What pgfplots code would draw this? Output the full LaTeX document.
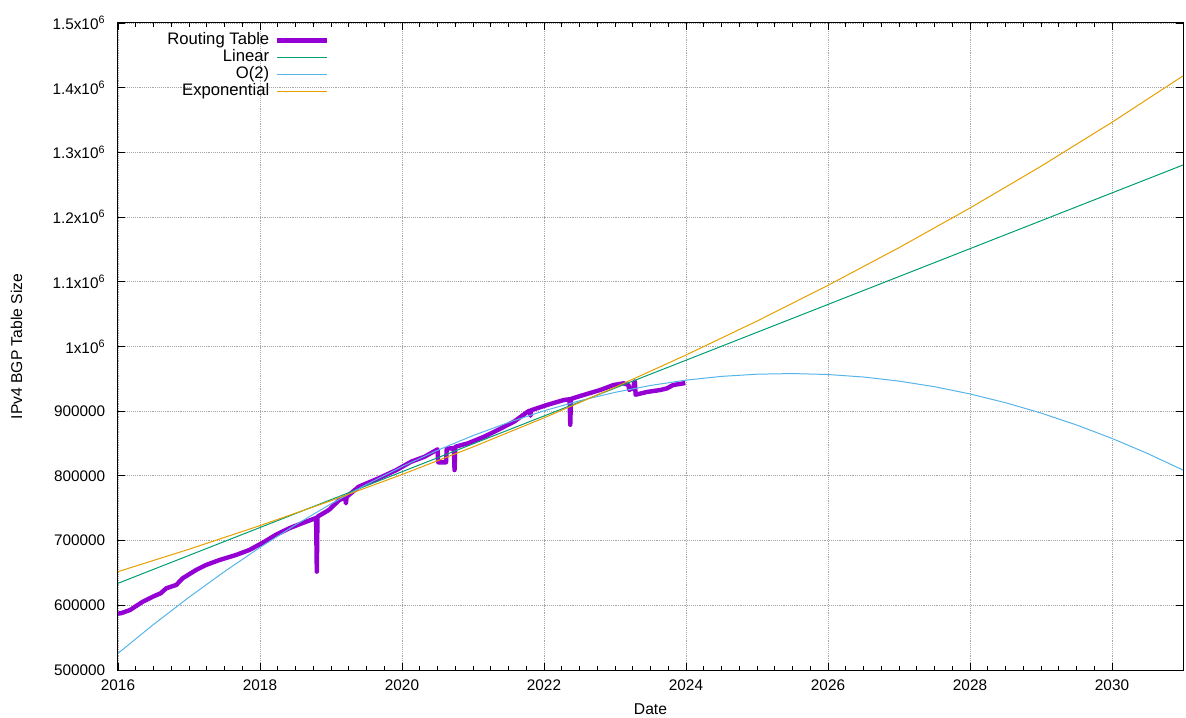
\documentclass[border=0pt]{standalone}
\usepackage{fontspec}
\setmainfont{Liberation Sans}
\usepackage{pgfplots}
\pgfplotsset{compat=1.18}
\definecolor{cRT}{HTML}{9400D3}
\definecolor{cLin}{HTML}{009E73}
\definecolor{cQuad}{HTML}{56B4E9}
\definecolor{cExp}{HTML}{E69F00}
\begin{document}
\fontsize{11.75}{14}\selectfont
\begin{tikzpicture}
\useasboundingbox (-88.5pt,-36pt) rectangle (801pt,502.5pt);
\begin{axis}[
  at={(0,0)}, anchor=south west,
  scale only axis, width=798.75pt, height=485.25pt,
  xmin=2016, xmax=2031, ymin=500000, ymax=1500000,
  xtick={2016,2018,...,2030},
  xticklabels={2016,2018,2020,2022,2024,2026,2028,2030},
  minor x tick num=7,
  ytick={500000,600000,700000,800000,900000,1000000,1100000,1200000,1300000,1400000,1500000},
  yticklabels={500000,600000,700000,800000,900000,1x10\textsuperscript{6},1.1x10\textsuperscript{6},1.2x10\textsuperscript{6},1.3x10\textsuperscript{6},1.4x10\textsuperscript{6},1.5x10\textsuperscript{6}},
  scaled y ticks=false, scaled x ticks=false,
  tick align=inside,
  major tick length=5.5pt, minor tick length=3pt,
  every tick/.style={black, line width=0.6pt},
  axis line style={black, line width=0.75pt},
  grid=major, major grid style={densely dotted, gray!70, line width=0.6pt},
  tick label style={font=\fontsize{11.5}{13.5}\selectfont},
  label style={font=\fontsize{12}{14}\selectfont},
  yticklabel style={xshift=-5.5pt},
  xticklabel style={yshift=-3pt},
  xlabel={Date}, ylabel={IPv4 BGP Table Size},
  every axis x label/.style={at={(axis description cs:0.5,-0.0605)}, anchor=center},
  every axis y label/.style={at={(axis description cs:-0.0953,0.5)}, rotate=90, anchor=center},
  legend plot pos=right,
  legend cell align=right,
  legend image code/.code={\draw[#1] (0pt,0pt) -- (37.5pt,0pt);},
  legend style={at={(axis description cs:0.199,0.986)}, anchor=north east,
    draw=none, fill=none, inner sep=0pt, row sep=0.25pt, column sep=4pt,
    font=\fontsize{12.5}{14}\selectfont,
    nodes={inner sep=0.5pt, text height=9pt, text depth=2.5pt}},
]
\addplot[cRT, line width=3.3pt, line join=round] coordinates {
(2016.00,587000) (2016.05,588000) (2016.17,592700) (2016.25,598500) (2016.35,605600)
(2016.49,613300) (2016.60,618500) (2016.68,626300) (2016.82,631400) (2016.91,641700)
(2017.10,654600) (2017.24,662300) (2017.43,670000) (2017.66,677700)
(2017.85,685500) (2018.04,696800) (2018.22,708700) (2018.41,719000)
(2018.59,726700) (2018.79,735000) (2018.80,652000) (2018.81,737000)
(2018.97,747300) (2019.11,762000) (2019.20,767000) (2019.21,757600)
(2019.22,767500) (2019.39,783300) (2019.67,796200) (2019.92,809000)
(2020.13,822000) (2020.32,829700) (2020.50,841000) (2020.51,821000)
(2020.62,821000) (2020.63,842000) (2020.73,843000) (2020.74,809000)
(2020.75,845000) (2020.93,850400) (2021.16,860700) (2021.35,871000)
(2021.58,884000) (2021.77,899200) (2021.80,901000) (2021.81,893000)
(2021.82,901500) (2022.04,909600) (2022.28,917300) (2022.36,918500)
(2022.37,879000) (2022.38,919000) (2022.51,923500) (2022.79,932700)
(2022.98,940500) (2023.12,943100) (2023.19,940500) (2023.20,933000)
(2023.26,936000) (2023.27,945600) (2023.28,945600) (2023.29,925500)
(2023.45,929700) (2023.64,932800) (2023.73,935200) (2023.82,940500)
(2023.99,943500)
};
\addlegendentry{Routing Table}
\addplot[cLin, line width=0.75pt] coordinates {
(2016,634000) (2019,763300) (2022,892600) (2025,1021900) (2028,1151200) (2031,1280500)
};
\addlegendentry{Linear}
\addplot[cQuad, line width=0.75pt] coordinates {
(2016.0,525800) (2016.5,570345) (2017.0,612469) (2017.5,652172)
(2018.0,689454) (2018.5,724315) (2019.0,756755) (2019.5,786774)
(2020.0,814372) (2020.5,839549) (2021.0,862305) (2021.5,882640)
(2022.0,900554) (2022.5,916047) (2023.0,929119) (2023.5,939770)
(2024.0,948000) (2024.5,953809) (2025.0,957197) (2025.5,958164)
(2026.0,956710) (2026.5,952835) (2027.0,946539) (2027.5,937822)
(2028.0,926684) (2028.5,913125) (2029.0,897145) (2029.5,878744)
(2030.0,857922) (2030.5,834679) (2031.0,809015)
};
\addlegendentry{O(2)}
\addplot[cExp, line width=0.75pt] coordinates {
(2016,652000) (2017,686667) (2018,723177) (2019,761628) (2020,802124)
(2021,844773) (2022,889690) (2023,936995) (2024,986815) (2025,1039284)
(2026,1094542) (2027,1152739) (2028,1214030) (2029,1278580) (2030,1346561)
(2031,1418158)
};
\addlegendentry{Exponential}
\end{axis}
\end{tikzpicture}
\end{document}
